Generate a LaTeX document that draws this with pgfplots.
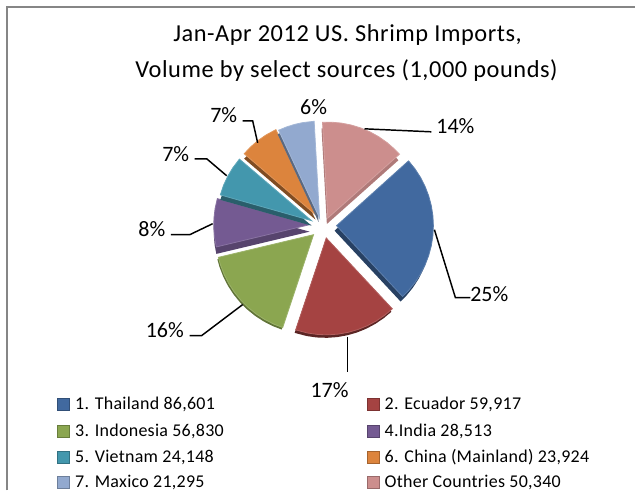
\documentclass[border=0pt]{standalone}
\usepackage{pgfplots}
\pgfplotsset{compat=1.18}
\usepackage{fontspec}
\setmainfont{Carlito}
\newfontface\titlefont[LetterSpace=2.3]{Carlito}
\newfontface\legfont[LetterSpace=1.5]{Carlito}
\definecolor{cThai}{HTML}{41699F}
\definecolor{cEcu}{HTML}{A54342}
\definecolor{cIndo}{HTML}{8BA650}
\definecolor{cIndia}{HTML}{745A92}
\definecolor{cViet}{HTML}{4397AD}
\definecolor{cChina}{HTML}{DC843D}
\definecolor{cMex}{HTML}{92A9CF}
\definecolor{cOther}{HTML}{CC8E8D}
\colorlet{cThaiS}{cThai!62!black}
\colorlet{cEcuS}{cEcu!55!black}
\colorlet{cIndoS}{cIndo!70!black}
\colorlet{cIndiaS}{cIndia!75!black}
\colorlet{cVietS}{cViet!62!black}
\colorlet{cChinaS}{cChina!58!black}
\colorlet{cMexS}{cMex!62!black}
\colorlet{cOtherS}{cOther!86!black}
\definecolor{frameg}{HTML}{868686}
% one exploded slice: colour, apex x, apex y, side dx, side dy, points (clockwise angle, radius)
\newcommand{\slice}[6]{%
  \addplot[data cs=polar,fill=#1S,draw=none,xshift=(#2+#4)*0.75pt,yshift=-(#3+#5)*0.75pt] coordinates {#6} -- cycle;
  \addplot[data cs=polar,fill=#1,draw=#1!85!white,line width=0.6pt,xshift=#2*0.75pt,yshift=-#3*0.75pt] coordinates {#6} -- cycle;
}
\begin{document}
\begin{tikzpicture}
\begin{axis}[
  width=477pt,height=368.25pt,scale only axis,
  xmin=0,xmax=636,ymin=0,ymax=491,y dir=reverse,
  hide axis,clip=false,
  leader/.style={black,line width=1.1pt,no markers},
  key/.style={only marks,mark=square*,mark size=4.6pt,mark options={fill=#1,draw=#1!75!black}},
  ]
% keeps the page at the full size
\addplot[draw=none] coordinates {(0,0) (636,491)};
% frame
\addplot[frameg,line width=1.3pt] coordinates {(7,491) (7,7) (636,7)};

% Thailand 86,601
\slice{cThai}{337}{226}{-2}{5}{(0,0) (-42,97) (-36,97) (-30,97) (-24,97) (-18,97) (-12,97) (-6,97) (0,97) (6,97) (12,97) (18,97) (24,97) (30,97) (36,97) (42,97) (47,97)}
% Ecuador 59,917
\slice{cEcu}{326.7}{238.3}{-1}{3}{(0,0) (47,97) (53,97) (59,97) (65,97) (71,97) (77,97) (83,97) (89,97) (95,97) (101,97) (108.4,97)}
% Indonesia 56,830
\slice{cIndo}{314}{235}{-1}{2}{(0,0) (108.4,98) (114,98) (120,98) (126,98) (132,98) (138,98) (144,98) (150,98) (156,98) (162,98) (166.6,98)}
% India 28,513
\slice{cIndia}{310}{225}{0}{7}{(0,0) (166.6,96) (172,96) (178,96) (184,96) (190,96) (195.8,96)}
% Vietnam 24,148
\slice{cViet}{312}{221}{0}{5}{(0,0) (195.8,95) (202,95) (208,95) (214,95) (220.5,95)}
% China 23,924
\slice{cChina}{316}{215}{0}{5}{(0,0) (220.5,94) (226,94) (232,94) (238,94) (245,94)}
% Maxico 21,295
\slice{cMex}{320}{218.3}{-1}{4}{(0,0) (245,97) (250,97) (255,97) (260,97) (266.8,97)}
% Other 50,340
\slice{cOther}{328.3}{218.3}{-1}{6}{(0,0) (266.8,96) (272,96) (278,96) (284,96) (290,96) (296,96) (302,96) (308,96) (314,96) (318.3,96)}

% leader lines
\addplot[leader] coordinates {(365,129) (432,132)};
\addplot[leader] coordinates {(435,230) (456,298) (471,298)};
\addplot[leader] coordinates {(348,337) (348,373)};
\addplot[leader] coordinates {(243,305) (202,336) (190,336)};
\addplot[leader] coordinates {(213,224) (190,235) (171,235)};
\addplot[leader] coordinates {(227,176) (207,159) (195,159)};
\addplot[leader] coordinates {(258,143) (253,121) (243,121)};

% percentage labels
\newcommand{\pct}[3]{\node[font=\fontsize{16.5}{18}\selectfont,inner sep=0pt] at (axis cs:#1,#2) {#3};}
\pct{456}{126}{14\%}
\pct{490}{294}{25\%}
\pct{330}{391}{17\%}
\pct{165}{331}{16\%}
\pct{152}{229}{8\%}
\pct{176}{154}{7\%}
\pct{224}{115}{7\%}
\pct{314}{107}{6\%}

% title
\node[font=\titlefont\fontsize{18.3}{20}\selectfont,inner sep=0pt] at (axis cs:348,35) {Jan-Apr 2012 US. Shrimp Imports,};
\node[font=\titlefont\fontsize{18.3}{20}\selectfont,inner sep=0pt] at (axis cs:347,71) {Volume by select sources (1,000 pounds)};

% legend
\addplot[key=cThai] coordinates {(63.5,405)};
\addplot[key=cEcu] coordinates {(373.5,405)};
\addplot[key=cIndo] coordinates {(63.5,432)};
\addplot[key=cIndia] coordinates {(373.5,432)};
\addplot[key=cViet] coordinates {(63.5,458)};
\addplot[key=cChina] coordinates {(373.5,458)};
\addplot[key=cMex] coordinates {(63.5,483)};
\addplot[key=cOther] coordinates {(373.5,483)};
\newcommand{\lab}[3]{\node[font=\legfont\fontsize{13.5}{15}\selectfont,inner sep=0pt,anchor=west] at (axis cs:#1,#2) {#3};}
\lab{75}{405}{1. Thailand 86,601}
\lab{385}{405}{2. Ecuador 59,917}
\lab{75}{432}{3. Indonesia 56,830}
\lab{385}{432}{4.India 28,513}
\lab{75}{458}{5. Vietnam 24,148}
\lab{385}{458}{6. China (Mainland) 23,924}
\lab{75}{483}{7. Maxico 21,295}
\lab{385}{483}{Other Countries 50,340}
\end{axis}
\end{tikzpicture}
\end{document}
